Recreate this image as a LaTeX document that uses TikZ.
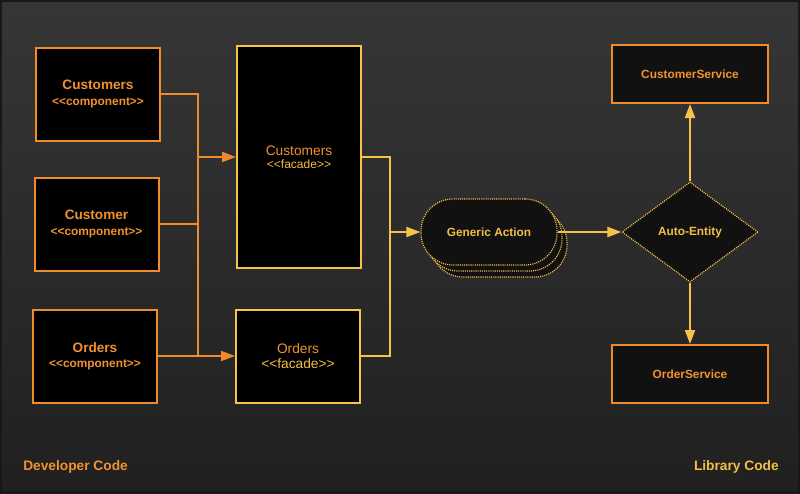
\documentclass[tikz,border=0pt]{standalone}
\usepackage{fontspec}
\setmainfont{Liberation Sans}[Ligatures=TeXOff]
\usetikzlibrary{shapes.geometric,arrows.meta}
\definecolor{orangeline}{HTML}{F08A2B}
\definecolor{yellowline}{HTML}{F7C24A}
\definecolor{orangetext}{HTML}{F2922F}
\definecolor{yellowtext}{HTML}{F2BE45}
\definecolor{bgtop}{HTML}{363636}
\definecolor{bgbottom}{HTML}{202020}
\definecolor{framegray}{HTML}{181818}
\definecolor{boxfill}{HTML}{111111}

\begin{document}
\begin{tikzpicture}[x=0.75pt, y=-0.75pt]
    % Define styles
    \tikzstyle{comp} = [rectangle, draw=orangeline, fill=black, line width=1.5pt, minimum width=93pt, minimum height=69.75pt, align=center, text=orangetext, font=\bfseries\fontsize{10.2}{11.3}\selectfont]
    \tikzstyle{facade} = [rectangle, draw=yellowline, fill=black, line width=1.5pt, minimum width=93pt, align=center, text=orangetext]
    \tikzstyle{service} = [rectangle, draw=orangeline, fill=boxfill, line width=1.5pt, minimum width=117pt, minimum height=43.5pt, text=orangetext, font=\bfseries\fontsize{8.9}{11}\selectfont]
    \tikzstyle{action} = [rectangle, rounded corners=24pt, draw=yellowline, fill=boxfill, line width=0.9pt, dash pattern=on 0.8pt off 0.8pt, minimum width=102pt, minimum height=49.5pt, text=yellowtext, font=\bfseries\fontsize{8.9}{11}\selectfont]
    \tikzstyle{decision} = [diamond, draw=yellowline, fill=boxfill, line width=0.9pt, dash pattern=on 0.8pt off 0.8pt, minimum width=102pt, minimum height=75pt, inner sep=0pt, text=yellowtext, font=\bfseries\fontsize{8.9}{11}\selectfont]
    \tikzstyle{devwire} = [draw=orangeline, line width=1.5pt]
    \tikzstyle{libwire} = [draw=yellowline, line width=1.5pt]
    \tikzstyle{devarrow} = [devwire, -{Triangle[length=10.5pt, width=7.5pt]}]
    \tikzstyle{libarrow} = [libwire, -{Triangle[length=10.5pt, width=7.5pt]}]
    \newcommand{\stereo}{\fontsize{8.9}{11}\selectfont}

    % Background
    \useasboundingbox (0,0) rectangle (800,493);
    \shade[top color=bgtop, bottom color=bgbottom] (0,0) rectangle (800,493);
    \draw[framegray, line width=1.5pt] (1,1) rectangle (799,492);

    % Developer components
    \node[comp] (custs) at (98,94) {Customers\\{\stereo <<component>>}};
    \node[comp] (cust) at (96.5,224) {Customer\\{\stereo <<component>>}};
    \node[comp] (orders) at (95,356) {Orders\\{\stereo <<component>>}};

    % Facades
    \node[facade, minimum height=166.5pt, font=\fontsize{10.3}{9.8}\selectfont] (custsfacade) at (299,157) {Customers\\{\fontsize{9}{9.8}\selectfont\color{yellowtext}<<facade>>}};
    \node[facade, minimum height=69.75pt, font=\fontsize{10.3}{11}\selectfont] (ordersfacade) at (298,356) {Orders\\{\color{yellowtext}<<facade>>}};

    % Generic action (stacked)
    \node[action] (action3) at (499,244) {};
    \node[action] (action2) at (494,238) {};
    \node[action] (action) at (489,232) {Generic Action};

    % Library side
    \node[decision] (entity) at (690,232) {Auto-Entity};
    \node[service] (custservice) at (690,74) {CustomerService};
    \node[service] (orderservice) at (690,374) {OrderService};

    % Labels
    \node[anchor=west, inner sep=0pt, text=orangetext, font=\bfseries\fontsize{10.3}{12}\selectfont] (devcode) at (23,467) {Developer Code};
    \node[anchor=east, inner sep=0pt, text=yellowtext, font=\bfseries\fontsize{10.3}{12}\selectfont] (libcode) at (779,467) {Library Code};

    % Junctions
    \coordinate (devjoin) at (198,157);
    \coordinate (devjoinlow) at (198,356);
    \coordinate (facadejoin) at (390,232);

    % Arrows
    \draw[devwire] (custs.east) -| (devjoin);
    \draw[devwire] (cust.east) -| (devjoin);
    \draw[devarrow] (devjoin) -- (custsfacade.west);
    \draw[devwire] (cust.east) -| (devjoinlow);
    \draw[devarrow] (orders.east) -- (ordersfacade.west);
    \draw[libwire] (custsfacade.east) -| (facadejoin);
    \draw[libwire] (ordersfacade.east) -| (facadejoin);
    \draw[libarrow] (facadejoin) -- (action.west);
    \draw[libarrow] (action.east) -- (entity.west);
    \draw[libarrow] (entity.north) -- (custservice.south);
    \draw[libarrow] (entity.south) -- (orderservice.north);
\end{tikzpicture}
\end{document}
